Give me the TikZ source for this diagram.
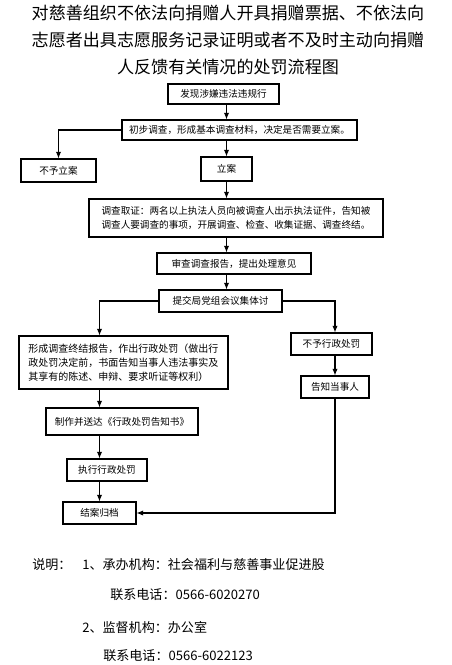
\documentclass[tikz,border=0pt]{standalone}
\usepackage{fontspec}
\setmainfont{Noto Sans CJK SC}
\usetikzlibrary{positioning, arrows.meta}
\newdimen\unitpx
\unitpx=0.75pt

\begin{document}
\begin{tikzpicture}[x=0.75pt, y=-0.75pt,
  box/.style={draw, line width=0.8pt, inner sep=0pt,
    font=\fontsize{7.2pt}{10.5pt}\selectfont},
  flow/.style={-{Latex[length=5pt,width=4pt]}, line width=0.8pt}]
\useasboundingbox (0,0) rectangle (451,665);

\node[align=center, font=\fontsize{12.8pt}{20.6pt}\selectfont] (title) at (228,40)
  {对慈善组织不依法向捐赠人开具捐赠票据、不依法向\\
   志愿者出具志愿服务记录证明或者不及时主动向捐赠\\
   人反馈有关情况的处罚流程图};

\node[box, minimum width=111\unitpx, minimum height=20\unitpx] (found) at (223.5,94) {发现涉嫌违法违规行};
\node[box, minimum width=235\unitpx, minimum height=20\unitpx] (prelim) at (239.5,130) {初步调查，形成基本调查材料，决定是否需要立案。};
\node[box, minimum width=75\unitpx, minimum height=23\unitpx] (nocase) at (58.5,170.5) {不予立案};
\node[box, minimum width=51\unitpx, minimum height=24\unitpx] (lian) at (226.5,169) {立案};
\node[box, minimum width=294\unitpx, minimum height=38\unitpx, align=left] (evid) at (236,218)
  {调查取证：两名以上执法人员向被调查人出示执法证件，告知被\\
   调查人要调查的事项，开展调查、检查、收集证据、调查终结。};
\node[box, minimum width=154\unitpx, minimum height=21\unitpx] (review) at (234,263.5) {审查调查报告，提出处理意见};
\node[box, minimum width=123\unitpx, minimum height=22\unitpx] (meeting) at (220.5,301) {提交局党组会议集体讨};
\node[box, minimum width=209\unitpx, minimum height=53\unitpx, align=left,
  font=\fontsize{7.5pt}{10.5pt}\selectfont] (decide) at (123.5,362.5)
  {形成调查终结报告，作出行政处罚（做出行\\
   政处罚决定前，书面告知当事人违法事实及\\
   其享有的陈述、申辩、要求听证等权利）};
\node[box, minimum width=81\unitpx, minimum height=22\unitpx] (nopen) at (331.5,344) {不予行政处罚};
\node[box, minimum width=68\unitpx, minimum height=22\unitpx] (inform) at (335,387) {告知当事人};
\node[box, minimum width=152\unitpx, minimum height=27\unitpx] (notice) at (122,421.5) {制作并送达《行政处罚告知书》};
\node[box, minimum width=80\unitpx, minimum height=22\unitpx] (execute) at (107,470) {执行行政处罚};
\node[box, minimum width=73\unitpx, minimum height=22\unitpx] (close) at (99.5,513) {结案归档};

\draw[flow] (found.south -| lian) -- (prelim.north -| lian);
\draw[flow] (prelim.west) -| (nocase.north);
\draw[flow] (prelim.south -| lian) -- (lian.north);
\draw[flow] (lian.south) -- (evid.north -| lian);
\draw[flow] (evid.south -| lian) -- (review.north -| lian);
\draw[flow] (review.south -| lian) -- (meeting.north -| lian);
\draw[flow] (meeting.west) -| (decide.north -| close);
\draw[flow] (meeting.east) -| (nopen.north -| inform);
\draw[flow] (nopen.south -| inform) -- (inform.north);
\draw[flow] (inform.south) |- (close.east);
\draw[flow] (decide.south -| close) -- (notice.north -| close);
\draw[flow] (notice.south -| close) -- (execute.north -| close);
\draw[flow] (execute.south -| close) -- (close.north);

\begin{scope}[every node/.style={anchor=west, inner sep=0pt, font=\fontsize{9.8pt}{12pt}\selectfont}]
\node (notes) at (32,565) {说明：};
\node (org1) at (82,565) {1、承办机构：社会福利与慈善事业促进股};
\node (tel1) at (110,595) {联系电话：0566-6020270};
\node (org2) at (82,627) {2、监督机构：办公室};
\node (tel2) at (103,656) {联系电话：0566-6022123};
\end{scope}
\end{tikzpicture}
\end{document}
